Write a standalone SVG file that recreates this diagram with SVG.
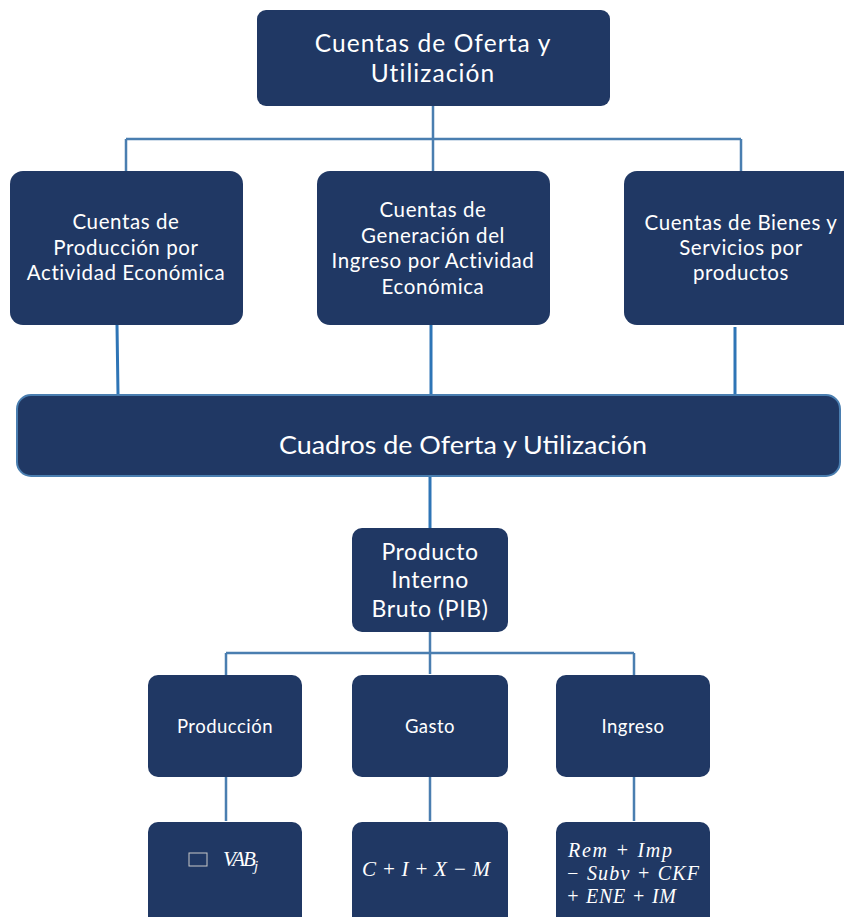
<svg xmlns="http://www.w3.org/2000/svg" width="844" height="917" viewBox="0 0 844 917">
<style>
.box{fill:#203864}
.t{fill:#ffffff;font-family:Lato,"Open Sans",sans-serif;text-anchor:middle}
.m{fill:#ffffff;font-family:"Liberation Serif",serif;font-style:italic}
.c1{stroke:#4a7eb0;stroke-width:2.5;fill:none}
.c2{stroke:#2e75b6;stroke-width:3;fill:none}
</style>
<rect width="844" height="917" fill="#ffffff"/>
<g id="connectors">
<path class="c1" d="M433 106V172M126 139H741M126 139V172M741 139V172"/>
<path class="c2" d="M117 325L118 394M431 325V394M735 327V396"/>
<path class="c2" d="M430 476V529"/>
<path class="c1" d="M430 632V674M226 653H634M226 653V676M634 653V676"/>
<path class="c1" d="M226 777V821M430 777V821M634 777V821"/>
</g>
<g id="n-top">
<rect class="box" x="257" y="10" width="353" height="96" rx="9"/>
<text class="t" font-size="24.5" letter-spacing="1.1" x="433" y="52">Cuentas de Oferta y</text>
<text class="t" font-size="24.5" letter-spacing="1.1" x="433" y="82">Utilización</text>
</g>
<g id="n-produccion-act">
<rect class="box" x="10" y="171" width="233" height="154" rx="13"/>
<text class="t" font-size="20.5" letter-spacing="0.6" x="126" y="229">Cuentas de</text>
<text class="t" font-size="20.5" letter-spacing="0.6" x="126" y="255">Producción por</text>
<text class="t" font-size="20.5" letter-spacing="0.6" x="126" y="280">Actividad Económica</text>
</g>
<g id="n-generacion">
<rect class="box" x="317" y="171" width="233" height="154" rx="13"/>
<text class="t" font-size="20.5" letter-spacing="0.6" x="433" y="217">Cuentas de</text>
<text class="t" font-size="20.5" letter-spacing="0.6" x="433" y="243">Generación del</text>
<text class="t" font-size="20.5" letter-spacing="0.6" x="433" y="268">Ingreso por Actividad</text>
<text class="t" font-size="20.5" letter-spacing="0.6" x="433" y="294">Económica</text>
</g>
<g id="n-bienes">
<rect class="box" x="624" y="171" width="240" height="154" rx="13"/>
<text class="t" font-size="20.5" letter-spacing="0.6" x="741" y="230">Cuentas de Bienes y</text>
<text class="t" font-size="20.5" letter-spacing="0.6" x="741" y="255">Servicios por</text>
<text class="t" font-size="20.5" letter-spacing="0.6" x="741" y="280">productos</text>
</g>
<g id="n-cuadros">
<rect class="box" x="17" y="395" width="823" height="81" rx="14" stroke="#4a7eb0" stroke-width="2"/>
<text class="t" font-size="25" x="463" y="454" textLength="368" lengthAdjust="spacingAndGlyphs">Cuadros de Oferta y Utilización</text>
</g>
<g id="n-pib">
<rect class="box" x="352" y="528" width="156" height="104" rx="10"/>
<text class="t" font-size="23" letter-spacing="0.6" x="430" y="560">Producto</text>
<text class="t" font-size="23" letter-spacing="0.6" x="430" y="588">Interno</text>
<text class="t" font-size="23" letter-spacing="0.6" x="430" y="617">Bruto (PIB)</text>
</g>
<g id="n-produccion">
<rect class="box" x="148" y="675" width="154" height="102" rx="10"/>
<text class="t" font-size="18.5" letter-spacing="0.5" x="225" y="733">Producción</text>
</g>
<g id="n-gasto">
<rect class="box" x="352" y="675" width="156" height="102" rx="10"/>
<text class="t" font-size="18.5" letter-spacing="0.5" x="430" y="733">Gasto</text>
</g>
<g id="n-ingreso">
<rect class="box" x="556" y="675" width="154" height="102" rx="10"/>
<text class="t" font-size="18.5" letter-spacing="0.5" x="633" y="733">Ingreso</text>
</g>
<g id="n-f-produccion">
<rect class="box" x="148" y="822" width="154" height="110" rx="10"/>
<rect x="189" y="853" width="18" height="13" fill="none" stroke="#c8c8c8" stroke-width="1"/>
<text class="m" font-size="21" x="223" y="866" letter-spacing="-2">VAB<tspan font-size="15" dy="5">j</tspan></text>
</g>
<g id="n-f-gasto">
<rect class="box" x="352" y="822" width="156" height="110" rx="10"/>
<text class="m" font-size="21" x="362" y="876" xml:space="preserve" textLength="128" lengthAdjust="spacing">C + I + X − M</text>
</g>
<g id="n-f-ingreso">
<rect class="box" x="556" y="822" width="154" height="110" rx="10"/>
<text class="m" font-size="20" x="568" y="857" xml:space="preserve" textLength="104" lengthAdjust="spacing">Rem + Imp</text>
<text class="m" font-size="20" x="566" y="880" xml:space="preserve" textLength="133" lengthAdjust="spacing">− Subv + CKF</text>
<text class="m" font-size="20" x="566" y="903" xml:space="preserve" textLength="110" lengthAdjust="spacing">+ ENE + IM</text>
</g>
</svg>
